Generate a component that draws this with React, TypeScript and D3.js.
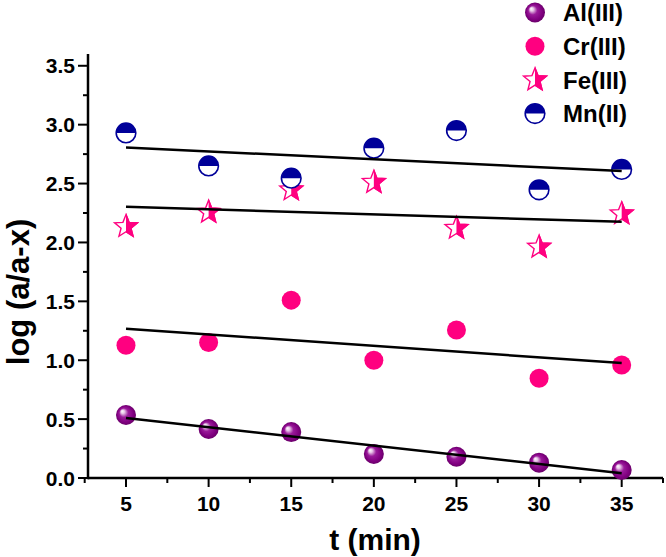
import React from "react";
import * as d3 from "d3";

const times = [5, 10, 15, 20, 25, 30, 35];
const alValues = [0.535, 0.416, 0.39, 0.204, 0.18, 0.13, 0.068];
const crValues = [1.127, 1.15, 1.51, 1.0, 1.257, 0.847, 0.96];
const feValues = [2.135, 2.257, 2.447, 2.51, 2.12, 1.96, 2.243];
const mnValues = [2.93, 2.65, 2.546, 2.8, 2.95, 2.447, 2.62];
const seriesNames = ["Al(III)", "Cr(III)", "Fe(III)", "Mn(II)"];
const xTicks = [5, 10, 15, 20, 25, 30, 35];
const xMinor = [2.5, 7.5, 12.5, 17.5, 22.5, 27.5, 32.5, 37.5];
const yTicks = [0, 0.5, 1, 1.5, 2, 2.5, 3, 3.5];
const yMinor = [0.25, 0.75, 1.25, 1.75, 2.25, 2.75, 3.25];

const W = 666, H = 557;
const x = d3.scaleLinear().domain([2.7, 37.5]).range([88, 663]);
const y = d3.scaleLinear().domain([0, 3.6]).range([478, 54]);

const PINK = "#ff0080";
const NAVY = "#000099";
const FONT = "'Liberation Sans', Arial, sans-serif";

function fit(xs: number[], ys: number[]) {
  const mx = d3.mean(xs)!, my = d3.mean(ys)!;
  let sxy = 0, sxx = 0;
  xs.forEach((v, i) => { sxy += (v - mx) * (ys[i] - my); sxx += (v - mx) * (v - mx); });
  const b = sxy / sxx;
  const a = my - b * mx;
  return (t: number) => a + b * t;
}

function starPath(R: number, r: number) {
  const pts: [number, number][] = [];
  for (let i = 0; i < 10; i++) {
    const ang = -Math.PI / 2 + (i * Math.PI) / 5;
    const rad = i % 2 === 0 ? R : r;
    pts.push([rad * Math.cos(ang), rad * Math.sin(ang)]);
  }
  return d3.line()(pts)! + "Z";
}
const STAR = starPath(12, 5.2);

function Al({ cx, cy }: { cx: number; cy: number }) {
  return <circle cx={cx} cy={cy} r={10} fill="url(#sphere)" />;
}
function Cr({ cx, cy }: { cx: number; cy: number }) {
  return <circle cx={cx} cy={cy} r={9.5} fill={PINK} />;
}
function Fe({ cx, cy }: { cx: number; cy: number }) {
  return (
    <g transform={`translate(${cx},${cy})`}>
      <path d={STAR} fill="white" stroke={PINK} strokeWidth={1.4} />
      <path d={STAR} fill={PINK} stroke={PINK} strokeWidth={1.4} clipPath="url(#rightHalf)" />
    </g>
  );
}
function Mn({ cx, cy }: { cx: number; cy: number }) {
  return (
    <g transform={`translate(${cx},${cy})`}>
      <circle r={9.8} fill="white" stroke={NAVY} strokeWidth={1.6} />
      <path d={d3.arc()({ innerRadius: 0, outerRadius: 9.8, startAngle: -Math.PI / 2, endAngle: Math.PI / 2 })!} fill={NAVY} />
    </g>
  );
}

const markers = [Al, Cr, Fe, Mn];
const allSeries = [alValues, crValues, feValues, mnValues];

export default function App() {
  const fits = allSeries.map((vals) => fit(times, vals));
  return (
    <svg width={W} height={H} style={{ position: "absolute", left: 0, top: 0 }} fontFamily={FONT}>
      <defs>
        <radialGradient id="sphere" cx="0.5" cy="0.5" r="0.5" fx="0.3" fy="0.3">
          <stop offset="0" stopColor="#ffffff" />
          <stop offset="0.18" stopColor="#e8c8e8" />
          <stop offset="0.45" stopColor="#9a1a9a" />
          <stop offset="0.8" stopColor="#800080" />
          <stop offset="1" stopColor="#6a006a" />
        </radialGradient>
        <clipPath id="rightHalf">
          <rect x={0} y={-20} width={20} height={40} />
        </clipPath>
      </defs>
      <rect width={W} height={H} fill="white" />

      {/* axes */}
      <line x1={x.range()[0]} x2={x.range()[1]} y1={y(0)} y2={y(0)} stroke="black" strokeWidth={2.5} />
      <line x1={x.range()[0]} x2={x.range()[0]} y1={y(0) + 1.25} y2={y.range()[1]} stroke="black" strokeWidth={2.5} />
      {xTicks.map((t) => (
        <g key={"xt" + t}>
          <line x1={x(t)} x2={x(t)} y1={y(0)} y2={y(0) + 9} stroke="black" strokeWidth={2} />
          <text x={x(t)} y={511} textAnchor="middle" fontSize={21} fontWeight="bold">{t}</text>
        </g>
      ))}
      {xMinor.map((t) => (
        <line key={"xm" + t} x1={x(t)} x2={x(t)} y1={y(0)} y2={y(0) + 5} stroke="black" strokeWidth={2} />
      ))}
      {yTicks.map((v) => (
        <g key={"yt" + v}>
          <line x1={x.range()[0] - 10} x2={x.range()[0]} y1={y(v)} y2={y(v)} stroke="black" strokeWidth={2} />
          <text x={75} y={y(v)} dy="0.36em" textAnchor="end" fontSize={21} fontWeight="bold">{d3.format(".1f")(v)}</text>
        </g>
      ))}
      {yMinor.map((v) => (
        <line key={"ym" + v} x1={x.range()[0] - 5} x2={x.range()[0]} y1={y(v)} y2={y(v)} stroke="black" strokeWidth={2} />
      ))}
      <text x={375} y={550} textAnchor="middle" fontSize={30} fontWeight="bold">t (min)</text>
      <text transform="translate(29,292) rotate(-90)" textAnchor="middle" fontSize={31} fontWeight="bold">log (a/a-x)</text>

      {/* markers */}
      {allSeries.map((vals, si) => {
        const M = markers[si];
        return vals.map((v, i) => <M key={si + "-" + i} cx={x(times[i])} cy={y(v)} />);
      })}

      {/* fit lines */}
      {fits.map((f, si) => (
        <line key={"fit" + si} x1={x(5)} x2={x(35)} y1={y(f(5))} y2={y(f(35))} stroke="black" strokeWidth={2.5} />
      ))}

      {/* legend */}
      {seriesNames.map((name, i) => {
        const M = markers[i];
        const ly = 12.5 + i * 33.7;
        return (
          <g key={"lg" + i}>
            <M cx={535} cy={ly} />
            <text x={563} y={ly} dy="0.36em" fontSize={24} fontWeight="bold">{name}</text>
          </g>
        );
      })}
    </svg>
  );
}
